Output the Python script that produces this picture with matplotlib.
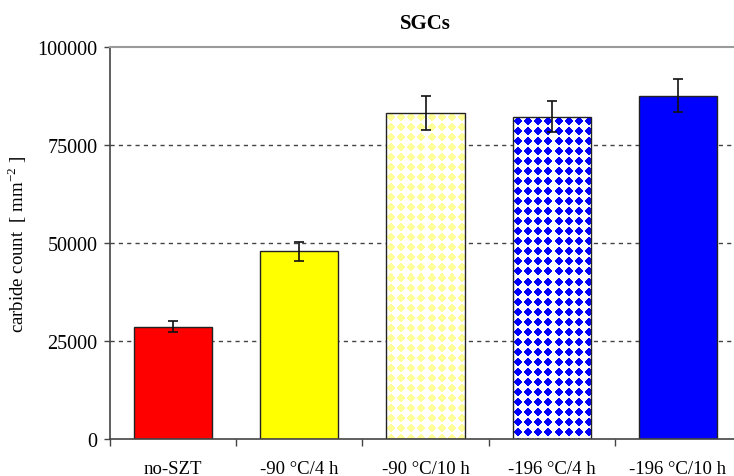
import numpy as np
import matplotlib
matplotlib.use("Agg")
import matplotlib.pyplot as plt
from matplotlib.colors import to_rgb

categories = ["no-SZT", "-90 °C/4 h", "-90 °C/10 h", "-196 °C/4 h", "-196 °C/10 h"]
counts = [28600, 47900, 83200, 82200, 87600]
errors = [1400, 2400, 4300, 4000, 4300]
colors = ["#FF0000", "#FFFF00", "#FFFF99", "#0000FF", "#0000FF"]
patterned = [False, False, True, True, False]
yticks = [0, 25000, 50000, 75000, 100000]

plt.rcParams["font.family"] = ["Liberation Serif", "DejaVu Serif"]
plt.rcParams["mathtext.fontset"] = "custom"
plt.rcParams["mathtext.rm"] = "Liberation Serif"

fig = plt.figure(figsize=(7.34, 4.77), dpi=100)
ax = fig.add_axes([110 / 734, 1 - 440 / 477, (741 - 110) / 734, (440 - 48) / 477])

x = np.arange(len(categories))
ax.set_xlim(-0.5, len(categories) - 0.5)
ax.set_ylim(0, 100000)


def diamond_fill(ax, bar, color, period=10, radius=5.0):
    """Fill a bar with a grid of small diamonds, clipped to the bar outline."""
    x0, y0 = bar.get_x(), bar.get_y()
    w, h = bar.get_width(), bar.get_height()
    (px0, py0), (px1, py1) = ax.transData.transform([(x0, y0), (x0 + w, y0 + h)])
    W = int(round(px1 - px0))
    H = int(round(py1 - py0))
    jj, ii = np.meshgrid(np.arange(W), np.arange(H))
    u = (jj % period) - (period - 1) / 2
    v = (ii % period) - (period - 1) / 2
    mask = np.abs(u) + np.abs(v) <= radius
    img = np.ones((H, W, 3))
    img[mask] = to_rgb(color)
    im = ax.imshow(img[::-1], extent=(x0, x0 + w, y0, y0 + h), origin="lower",
                   aspect="auto", interpolation="nearest", zorder=1.5)
    im.set_clip_path(bar)


faces = ["none" if p else c for c, p in zip(colors, patterned)]
bars = ax.bar(x, counts, width=0.62, color=faces, edgecolor="#222222",
              linewidth=1.0, zorder=2)
for bar, c, p in zip(bars, colors, patterned):
    if p:
        diamond_fill(ax, bar, c, radius=4.6 if c == "#0000FF" else 4.3)

ax.errorbar(x, counts, yerr=errors, fmt="none", ecolor="#111111",
            elinewidth=1.2, capsize=3.8, capthick=1.2, zorder=3)

ax.set_xlim(-0.5, len(categories) - 0.5)
ax.set_ylim(0, 100000)

# grid and frame
for yv in yticks[1:-1]:
    ax.axhline(yv, color="#444444", linestyle=(0, (3, 3)), linewidth=1.0, zorder=1)
ax.spines["right"].set_visible(False)
ax.spines["top"].set_color("#9a9a9a")
ax.spines["top"].set_linewidth(1.5)
for side in ["left", "bottom"]:
    ax.spines[side].set_color("#444444")
    ax.spines[side].set_linewidth(1.2)

ax.set_yticks(yticks)
ax.set_yticklabels([str(v) for v in yticks])
ax.tick_params(axis="y", direction="out", length=4, width=1, color="#444444",
               labelsize=14.5, pad=5)

ax.set_xticks(x)
ax.set_xticklabels(categories)
ax.set_xticks(np.arange(-0.5, len(categories) + 0.5, 1.0), minor=True)
ax.tick_params(axis="x", which="major", length=0, labelsize=13.5, pad=15)
ax.tick_params(axis="x", which="minor", direction="out", length=5, width=1,
               color="#444444")

ax.set_ylabel(r"carbide count  [ mm$^{\mathregular{-2}}$ ]", fontsize=13.5)
ax.yaxis.set_label_coords(-0.128, 0.5)
ax.set_title("SGCs", fontsize=15, fontweight="bold", pad=14)

fig.savefig("out.png", dpi=100)
